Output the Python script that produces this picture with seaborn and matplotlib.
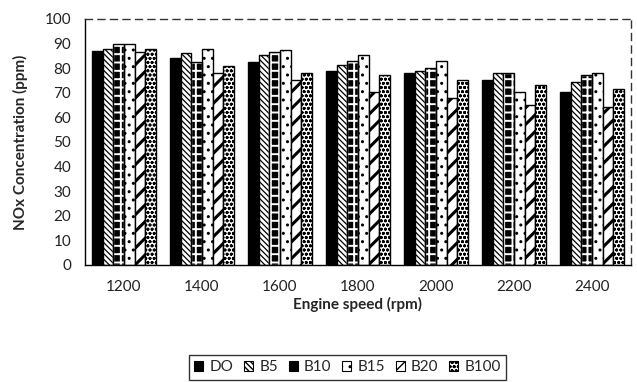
import numpy as np
import pandas as pd
import matplotlib
matplotlib.use("Agg")
import matplotlib.pyplot as plt
import seaborn as sns
from matplotlib.patches import Rectangle

speeds = ["1200", "1400", "1600", "1800", "2000", "2200", "2400"]
fuels = ["DO", "B5", "B10", "B15", "B20", "B100"]
DO = [87, 84, 82.5, 79, 78, 75.3, 70.3]
B5 = [88, 86, 85.3, 81.2, 79, 78, 74.2]
B10 = [90, 82.5, 86.4, 83, 80.2, 78, 77.4]
B15 = [90, 88, 87.2, 85.2, 83, 70.3, 78]
B20 = [86.4, 78, 75.3, 70.3, 67.9, 65.2, 64.2]
B100 = [88, 81, 78, 77.4, 75.2, 73, 71.4]

series = {"DO": DO, "B5": B5, "B10": B10, "B15": B15, "B20": B20, "B100": B100}
df = pd.DataFrame([(s, f, series[f][i]) for f in fuels for i, s in enumerate(speeds)],
                  columns=["speed", "fuel", "nox"])

sns.set_theme(style="white")
plt.rcParams['font.family'] = ['Lato', 'DejaVu Sans']
plt.rcParams['hatch.linewidth'] = 1.0

fig = plt.figure(figsize=(6.37, 3.82), dpi=100)
ax = fig.add_axes([0.1334, 0.3063, 0.8572, 0.6440])

sns.barplot(data=df, x="speed", y="nox", hue="fuel", order=speeds, hue_order=fuels,
            width=0.815, ax=ax, legend=False, saturation=1, errorbar=None)

styles = {
    "DO": dict(fc="black", ec="black", hatch=None),
    "B5": dict(fc="white", ec="black", hatch="\\\\\\\\\\\\"),
    "B10": dict(fc="black", ec="white", hatch="++"),
    "B15": dict(fc="white", ec="black", hatch=".."),
    "B20": dict(fc="white", ec="black", hatch="//"),
    "B100": dict(fc="white", ec="black", hatch="oooo"),
}
hlw = {"DO": 1.0, "B5": 0.9, "B10": 1.4, "B15": 1.0, "B20": 2.2, "B100": 0.9}

handles = []
for cont, f in zip(ax.containers, fuels):
    st = styles[f]
    for p in cont:
        p.set_facecolor(st["fc"])
        p.set_edgecolor(st["ec"])
        p.set_linewidth(1.0)
        if st["hatch"]:
            p.set_hatch(st["hatch"])
        if hasattr(p, "set_hatch_linewidth"):
            p.set_hatch_linewidth(hlw[f])
        if st["ec"] != "black":
            ax.add_patch(Rectangle(p.get_xy(), p.get_width(), p.get_height(),
                                   fill=False, edgecolor="black", linewidth=1.0, zorder=p.get_zorder() + 0.1))
    h = Rectangle((0, 0), 1, 1, facecolor=st["fc"], edgecolor="black",
                  hatch=st["hatch"] if f != "B10" else None, linewidth=0.8, label=f)
    handles.append(h)

ax.set_ylim(0, 100)
ax.set_yticks(np.arange(0, 101, 10))
ax.set_xlim(-0.5, len(speeds) - 0.5)
ax.set_xticks(np.arange(-0.5, len(speeds), 1.0), minor=True)
ax.tick_params(axis="x", which="major", length=0, pad=11, labelsize=11, colors="#222222")
ax.tick_params(axis="x", which="minor", length=5, width=1, color="black", direction="out")
ax.tick_params(axis="y", which="major", length=6, width=1, color="black", direction="out",
               labelsize=11, pad=4, labelcolor="#222222")
ax.set_xlabel("Engine speed (rpm)", fontsize=11, fontweight="bold", labelpad=2)
ax.set_ylabel("NOx Concentration (ppm)", fontsize=11, fontweight="bold", labelpad=12)

for s in ["left", "bottom"]:
    ax.spines[s].set_color("black")
    ax.spines[s].set_linewidth(1.0)
for s in ["top", "right"]:
    ax.spines[s].set_color("#333333")
    ax.spines[s].set_linewidth(1.0)
    ax.spines[s].set_linestyle((0, (5, 4)))

leg = fig.legend(handles=handles, loc="upper center", bbox_to_anchor=(0.5455, 0.0707), ncol=6,
                 frameon=True, fancybox=False, fontsize=11, handlelength=0.6, handleheight=0.6,
                 handletextpad=0.4, columnspacing=0.7, borderpad=0.35, borderaxespad=0)
leg.get_frame().set_edgecolor("black")
leg.get_frame().set_linewidth(1.0)

fig.savefig("out.png", dpi=100)
